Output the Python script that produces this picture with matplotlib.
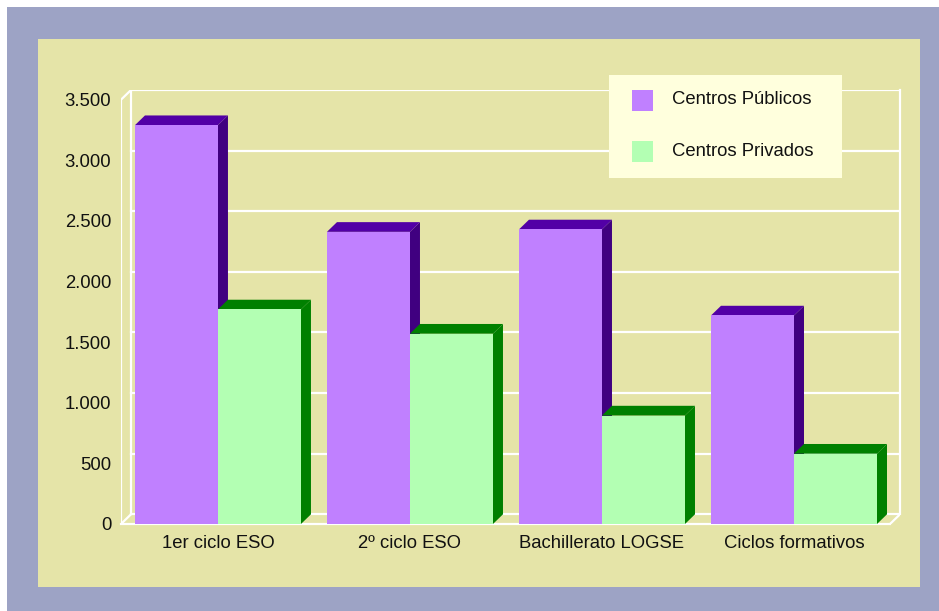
import numpy as np
import matplotlib
matplotlib.use("Agg")
import matplotlib.pyplot as plt
from matplotlib.patches import Rectangle, Polygon

# datos
categorias = ['1er ciclo ESO', '2º ciclo ESO', 'Bachillerato LOGSE', 'Ciclos formativos']
publicos = [3290, 2410, 2430, 1720]
privados = [1770, 1570, 895, 580]
series = ['Centros Públicos', 'Centros Privados']
yticks = [0, 500, 1000, 1500, 2000, 2500, 3000, 3500]
ytick_labels = ['0', '500', '1.000', '1.500', '2.000', '2.500', '3.000', '3.500']

# colores: frente, tapa, lateral
col_pub = ('#C080FF', '#5200A6', '#400080')
col_priv = ('#B3FFB3', '#008000', '#008000')

plt.rcParams['font.family'] = ['Liberation Sans', 'DejaVu Sans']
FS = 13.3

W, H = 939, 611


def fx(px):
    return px / W


def fy(py):
    return 1 - py / H


fig = plt.figure(figsize=(W / 100, H / 100), dpi=100, facecolor='#9DA3C5')

# franjas blancas arriba / izquierda y panel caqui
fig.patches.append(Rectangle((0, fy(7)), 1, 7 / H, transform=fig.transFigure,
                             facecolor='white', edgecolor='none', zorder=-3))
fig.patches.append(Rectangle((0, 0), 7 / W, 1, transform=fig.transFigure,
                             facecolor='white', edgecolor='none', zorder=-3))
fig.patches.append(Rectangle((fx(38), fy(587)), (920 - 38) / W, (587 - 39) / H,
                             transform=fig.transFigure, facecolor='#E5E4A8',
                             edgecolor='none', zorder=-2))

ax = fig.add_axes([fx(121), fy(524), (900 - 121) / W, (524 - 90) / H])
ax.patch.set_visible(False)
ax.set_frame_on(False)

w = 83 / 192          # ancho de cada barra (unidades de categoria)
dx = 10 / 192         # profundidad 3D en x
dy = 80               # profundidad 3D en y (unidades de datos)
x0 = -0.505
xend = len(categorias) - 0.5

ax.set_xlim(x0, xend + dx)
ax.set_ylim(0, 3500 + dy)

# caja 3D: pared de fondo y rejilla
lw = 1.6
gc = 'white'
for v in yticks:
    ax.plot([x0 + dx, xend + dx], [v + dy, v + dy], color=gc, lw=lw, zorder=1)
ax.plot([x0 + dx, x0 + dx], [dy, 3500 + dy], color=gc, lw=lw, zorder=1)
ax.plot([xend + dx, xend + dx], [dy, 3500 + dy], color=gc, lw=lw, zorder=1, clip_on=False)
ax.plot([x0, x0], [0, 3500], color=gc, lw=lw, zorder=1)
ax.plot([x0, x0 + dx], [3500, 3500 + dy], color=gc, lw=lw, zorder=1)
ax.plot([x0, x0 + dx], [0, dy], color=gc, lw=lw, zorder=1)
ax.plot([x0, xend], [0, 0], color=gc, lw=lw, zorder=1, clip_on=False)
ax.plot([xend, xend + dx], [0, dy], color=gc, lw=lw, zorder=1)


def barra3d(xl, v, cols, z):
    xr = xl + w
    ax.add_patch(Polygon([(xr, 0), (xr + dx, dy), (xr + dx, v + dy), (xr, v)],
                         closed=True, facecolor=cols[2], edgecolor='none', zorder=z))
    ax.add_patch(Polygon([(xl, v), (xl + dx, v + dy), (xr + dx, v + dy), (xr, v)],
                         closed=True, facecolor=cols[1], edgecolor='none', zorder=z))
    ax.bar(xl, v, width=w, align='edge', color=cols[0], edgecolor='none', zorder=z)


z = 2
for i in range(len(categorias)):
    barra3d(i - w, publicos[i], col_pub, z)
    z += 1
    barra3d(i, privados[i], col_priv, z)
    z += 1

ax.set_yticks(yticks)
ax.set_yticklabels(ytick_labels)
ax.set_xticks(range(len(categorias)))
ax.set_xticklabels(categorias)
ax.tick_params(axis='y', length=0, pad=7, labelsize=FS, labelcolor='#111111')
ax.tick_params(axis='x', length=0, pad=8, labelsize=FS, labelcolor='#111111')

# leyenda
fig.patches.append(Rectangle((fx(609), fy(178)), (842 - 609) / W, (178 - 75) / H,
                             transform=fig.transFigure, facecolor='#FFFFDD',
                             edgecolor='none', zorder=5))
for k, (nombre, col) in enumerate(zip(series, [col_pub[0], col_priv[0]])):
    top = 90 + 51 * k
    fig.patches.append(Rectangle((fx(632), fy(top + 21)), 21 / W, 21 / H,
                                 transform=fig.transFigure, facecolor=col,
                                 edgecolor='none', zorder=6))
    fig.text(fx(672), fy(top + 10), nombre, fontsize=FS, color='#111111',
             va='center', ha='left', zorder=7)

fig.savefig('out.png', dpi=100, facecolor=fig.get_facecolor())
